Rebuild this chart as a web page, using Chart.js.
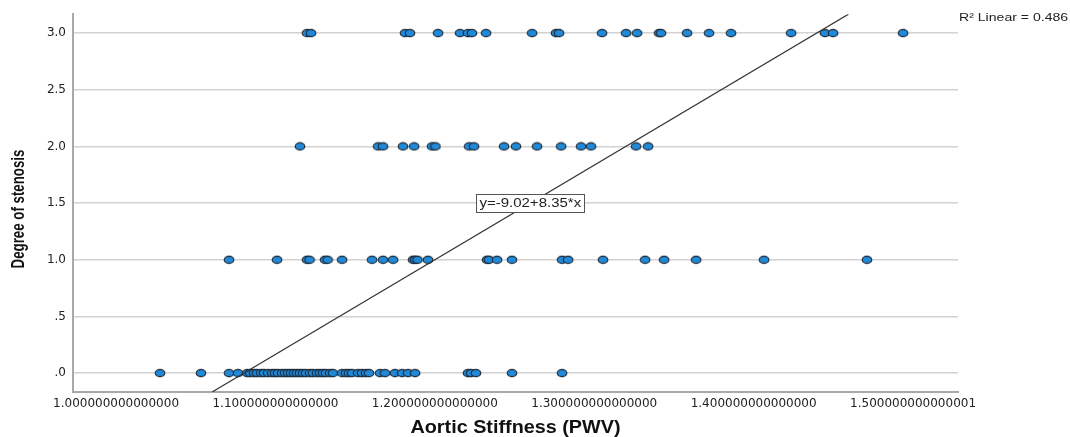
<!DOCTYPE html>
<html>
<head>
<meta charset="utf-8">
<script src="https://cdn.jsdelivr.net/npm/chart.js@4"></script>
<style>
  html, body { margin: 0; padding: 0; background: #fff; }
  #wrap { width: 1070px; height: 437px; position: relative; }
</style>
</head>
<body>
<div id="wrap"><canvas id="pwv-chart"></canvas></div>
<script>
// Aortic stiffness (PWV) for each degree of stenosis
const stenosisLevels = [0, 1, 2, 3];
const pwvGrade0 = [
  1.0276, 1.0533, 1.0709, 1.0765, 1.0822, 1.0841, 1.0866, 1.0885, 1.0910, 1.0928,
  1.0954, 1.0979, 1.0997, 1.1016, 1.1041, 1.1060, 1.1079, 1.1098, 1.1117, 1.1136,
  1.1154, 1.1173, 1.1192, 1.1217, 1.1236, 1.1261, 1.1280, 1.1299, 1.1317, 1.1343,
  1.1361, 1.1418, 1.1443, 1.1462, 1.1481, 1.1518, 1.1543, 1.1568, 1.1587, 1.1656,
  1.1688, 1.1750, 1.1794, 1.1832, 1.1876, 1.2208, 1.2227, 1.2258, 1.2484, 1.2798,
];
const pwvGrade1 = [
  1.0709, 1.1010, 1.1198, 1.1214, 1.1311, 1.1327, 1.1418, 1.1606, 1.1675, 1.1738,
  1.1863, 1.1876, 1.1891, 1.1957, 1.2327, 1.2340, 1.2390, 1.2484, 1.2798, 1.2836,
  1.3055, 1.3319, 1.3438, 1.3639, 1.4065, 1.4711,
];
const pwvGrade2 = [
  1.1154, 1.1644, 1.1675, 1.1800, 1.1870, 1.1982, 1.2004, 1.2215, 1.2246, 1.2434,
  1.2509, 1.2641, 1.2792, 1.2917, 1.2980, 1.3262, 1.3338,
];
const pwvGrade3 = [
  1.1198, 1.1223, 1.1813, 1.1844, 1.2020, 1.2158, 1.2208, 1.2233, 1.2321, 1.2610,
  1.2760, 1.2779, 1.3049, 1.3200, 1.3269, 1.3407, 1.3419, 1.3582, 1.3720, 1.3858,
  1.4235, 1.4448, 1.4498, 1.4937,
];

// Linear fit
const fitIntercept = -9.02;
const fitSlope = 8.35;
const fitR2 = 0.486;

// Axis ticks
const xTicks = [1.0, 1.1, 1.2, 1.3, 1.4, 1.5];
const xTickLabels = [
  '1.000000000000000', '1.100000000000000', '1.200000000000000',
  '1.300000000000000', '1.400000000000000', '1.500000000000001',
];
const yTicks = [0, 0.5, 1, 1.5, 2, 2.5, 3];
const yTickLabels = ['.0', '.5', '1.0', '1.5', '2.0', '2.5', '3.0'];

const xMin = 0.973, xMax = 1.5282;
const yMin = -0.1667, yMax = 3.1667;

// Build scatter points from the per-grade lists
const groups = [pwvGrade0, pwvGrade1, pwvGrade2, pwvGrade3];
const points = [];
groups.forEach((list, i) => {
  list.forEach((x) => points.push({ x: x, y: stenosisLevels[i] }));
});

// Fit line runs across the whole y range
const fitLine = [yMin, yMax].map((y) => ({ x: (y - fitIntercept) / fitSlope, y: y }));

// Elliptical marker
const dot = document.createElement('canvas');
dot.width = 12;
dot.height = 10;
const dctx = dot.getContext('2d');
dctx.beginPath();
dctx.ellipse(6, 5, 4.8, 3.6, 0, 0, Math.PI * 2);
dctx.fillStyle = '#2089d8';
dctx.fill();
dctx.lineWidth = 1.1;
dctx.strokeStyle = '#1b2735';
dctx.stroke();

// Titles, equation label and R² text
const annotations = {
  id: 'annotations',
  afterDraw(chart) {
    const { ctx, chartArea, scales } = chart;
    const sx = 1.25;

    // equation box sits on the fit line at y = 1.5
    const ey = 1.5;
    const ex = (ey - fitIntercept) / fitSlope;
    const px = scales.x.getPixelForValue(ex);
    const py = scales.y.getPixelForValue(ey);
    const eq = 'y=' + fitIntercept.toFixed(2) + '+' + fitSlope.toFixed(2) + '*x';
    ctx.save();
    ctx.font = '12px "Liberation Sans", Arial, sans-serif';
    const w = ctx.measureText(eq).width * sx + 6;
    const h = 18;
    ctx.fillStyle = '#fff';
    ctx.fillRect(px - w / 2, py - h / 2, w, h);
    ctx.strokeStyle = '#555';
    ctx.lineWidth = 1;
    ctx.strokeRect(Math.round(px - w / 2) + 0.5, Math.round(py - h / 2) + 0.5, Math.round(w), h);
    ctx.translate(px, py);
    ctx.scale(sx, 1);
    ctx.fillStyle = '#222';
    ctx.textAlign = 'center';
    ctx.textBaseline = 'middle';
    ctx.fillText(eq, 0, 1);
    ctx.restore();

    // R² label, right of the plot
    ctx.save();
    ctx.translate(chartArea.right + 1, 21);
    ctx.scale(1.28, 1);
    ctx.fillStyle = '#222';
    ctx.font = '11px "Liberation Sans", Arial, sans-serif';
    ctx.textBaseline = 'alphabetic';
    ctx.fillText('R\u00B2 Linear = ' + fitR2.toFixed(3), 0, 0);
    ctx.restore();

    // x axis title
    ctx.save();
    ctx.translate((chartArea.left + chartArea.right) / 2, 433);
    ctx.scale(1.1, 1);
    ctx.fillStyle = '#111';
    ctx.font = 'bold 18px "Liberation Sans", Arial, sans-serif';
    ctx.textAlign = 'center';
    ctx.fillText('Aortic Stiffness (PWV)', 0, 0);
    ctx.restore();

    // y axis title
    ctx.save();
    ctx.translate(24, 209);
    ctx.scale(1.15, 1);
    ctx.rotate(-Math.PI / 2);
    ctx.scale(0.83, 1);
    ctx.fillStyle = '#111';
    ctx.font = 'bold 16px "Liberation Sans", Arial, sans-serif';
    ctx.textAlign = 'center';
    ctx.fillText('Degree of stenosis', 0, 0);
    ctx.restore();
  },
};

new Chart(document.getElementById('pwv-chart'), {
  type: 'scatter',
  data: {
    datasets: [
      {
        type: 'line',
        data: fitLine,
        borderColor: '#333',
        borderWidth: 1.2,
        pointRadius: 0,
        fill: false,
        order: 0,
      },
      {
        data: points,
        pointStyle: dot,
        pointRadius: 5,
        order: 1,
      },
    ],
  },
  options: {
    responsive: true,
    maintainAspectRatio: false,
    animation: false,
    layout: { padding: { top: 12, right: 112, bottom: 0, left: 0 } },
    scales: {
      x: {
        type: 'linear',
        min: xMin,
        max: xMax,
        afterBuildTicks: (scale) => { scale.ticks = xTicks.map((v) => ({ value: v })); },
        afterFit: (scale) => { scale.height = 45; },
        ticks: {
          autoSkip: false,
          maxRotation: 0,
          padding: 5,
          color: '#222',
          font: { family: '"DejaVu Sans", sans-serif', size: 12 },
          callback: (value, index) => xTickLabels[index],
        },
        grid: { display: false, drawTicks: false },
        border: { display: true, color: '#a9a9a9', width: 2 },
      },
      y: {
        type: 'linear',
        min: yMin,
        max: yMax,
        afterBuildTicks: (scale) => { scale.ticks = yTicks.map((v) => ({ value: v })); },
        afterFit: (scale) => { scale.width = 73; },
        ticks: {
          padding: 7,
          color: '#222',
          font: { family: '"DejaVu Sans", sans-serif', size: 12 },
          callback: (value, index) => yTickLabels[index],
        },
        grid: { color: '#d2d2d2', lineWidth: 1.5, drawTicks: false },
        border: { display: true, color: '#a9a9a9', width: 2 },
      },
    },
    plugins: {
      legend: { display: false },
      tooltip: { enabled: false },
    },
  },
  plugins: [annotations],
});
</script>
</body>
</html>
